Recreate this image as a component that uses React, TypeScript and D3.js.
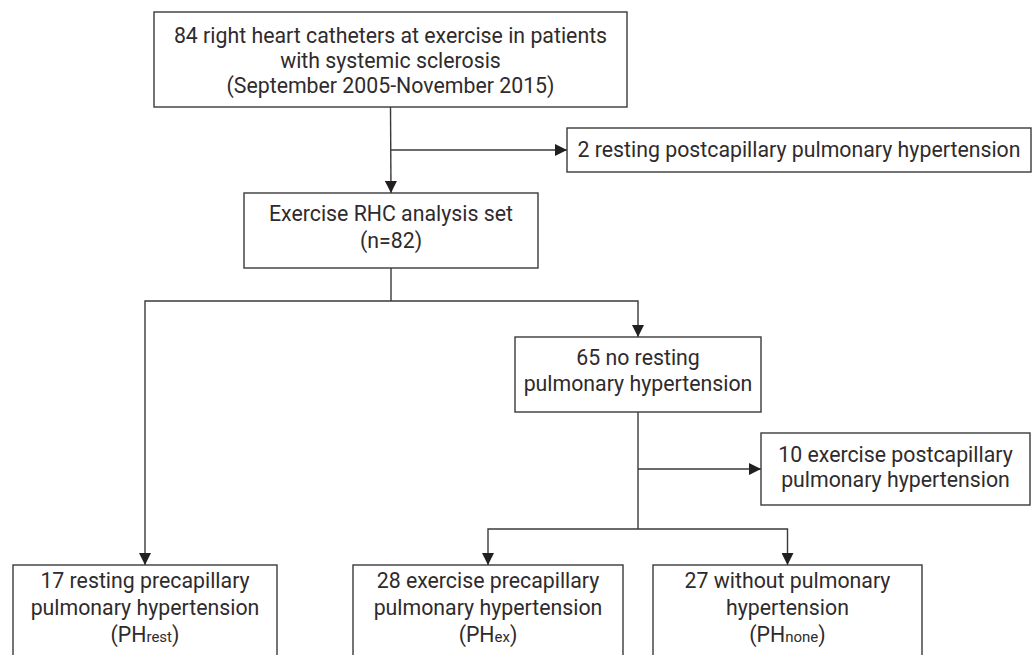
import * as d3 from "d3";
import { useEffect } from "react";

// box texts (main text lines, optional subscript on last line)
const startLines = [
  "84 right heart catheters at exercise in patients",
  "with systemic sclerosis",
  "(September 2005-November 2015)",
];
const excludedRestLines = ["2 resting postcapillary pulmonary hypertension"];
const analysisLines = ["Exercise RHC analysis set", "(n=82)"];
const noRestLines = ["65 no resting", "pulmonary hypertension"];
const excludedExLines = ["10 exercise postcapillary", "pulmonary hypertension"];
const phRestLines = ["17 resting precapillary", "pulmonary hypertension", "(PH|rest|)"];
const phExLines = ["28 exercise precapillary", "pulmonary hypertension", "(PH|ex|)"];
const phNoneLines = ["27 without pulmonary", "hypertension", "(PH|none|)"];

const W = 1036;
const H = 655;

type Box = { id: string; lines: string[]; x0: number; x1: number; y0: number; y1: number; first: number; lh: number };

const boxes: Box[] = [
  { id: "start", lines: startLines, x0: 154, x1: 627, y0: 12, y1: 107, first: 31, lh: 25 },
  { id: "exRest", lines: excludedRestLines, x0: 567, x1: 1031, y0: 128, y1: 172, first: 29, lh: 26 },
  { id: "analysis", lines: analysisLines, x0: 244, x1: 538, y0: 193, y1: 268, first: 28, lh: 27 },
  { id: "noRest", lines: noRestLines, x0: 515, x1: 761, y0: 337, y1: 412, first: 28, lh: 26 },
  { id: "exEx", lines: excludedExLines, x0: 761, x1: 1030, y0: 433, y1: 505, first: 29, lh: 25 },
  { id: "phRest", lines: phRestLines, x0: 13, x1: 277, y0: 565, y1: 680, first: 23, lh: 27 },
  { id: "phEx", lines: phExLines, x0: 353, x1: 623, y0: 565, y1: 680, first: 23, lh: 27 },
  { id: "phNone", lines: phNoneLines, x0: 653, x1: 922, y0: 565, y1: 680, first: 23, lh: 27 },
];

// junction heights of the connector branches
const branchY = { exclRest: 150, split: 301, exclEx: 469, splitEx: 529 };

const box = (id: string) => boxes.find((b) => b.id === id)!;
const cx = (b: Box) => (b.x0 + b.x1) / 2;

const stroke = "#3a3a3a";
const textColor = "#2f2b2c";
const font = "Roboto, 'Noto Sans', sans-serif";

const App = () => {
  useEffect(() => {
    document.body.style.margin = "0";
  }, []);

  const line = d3.line<[number, number]>().x((d) => d[0]).y((d) => d[1]);

  const s = box("start");
  const exR = box("exRest");
  const an = box("analysis");
  const nr = box("noRest");
  const exE = box("exEx");
  const pr = box("phRest");
  const pe = box("phEx");
  const pn = box("phNone");

  // connectors: [points, arrow?]
  const edges: [[number, number][], boolean][] = [
    [[[cx(s), s.y1], [cx(an), an.y0]], true],
    [[[cx(s), branchY.exclRest], [exR.x0, branchY.exclRest]], true],
    [[[cx(an), an.y1], [cx(an), branchY.split]], false],
    [[[cx(an), branchY.split], [cx(pr), branchY.split], [cx(pr), pr.y0]], true],
    [[[cx(an), branchY.split], [cx(nr), branchY.split], [cx(nr), nr.y0]], true],
    [[[cx(nr), nr.y1], [cx(nr), branchY.splitEx]], false],
    [[[cx(nr), branchY.exclEx], [exE.x0, branchY.exclEx]], true],
    [[[cx(nr), branchY.splitEx], [cx(pe), branchY.splitEx], [cx(pe), pe.y0]], true],
    [[[cx(nr), branchY.splitEx], [cx(pn), branchY.splitEx], [cx(pn), pn.y0]], true],
  ];

  const renderLine = (t: string) => {
    const parts = t.split("|");
    if (parts.length === 1) return t;
    return (
      <>
        {parts[0]}
        <tspan fontSize={15}>{parts[1]}</tspan>
        {parts[2]}
      </>
    );
  };

  return (
    <svg width={W} height={H} style={{ display: "block", background: "#fff" }}>
      <defs>
        <marker id="arr" viewBox="0 0 12 12" refX="12" refY="6" markerWidth="12" markerHeight="12" markerUnits="userSpaceOnUse" orient="auto">
          <path d="M0,0 L12,6 L0,12 Z" fill="#231f20" />
        </marker>
      </defs>
      {edges.map(([pts, arrow], i) => (
        <path
          key={i}
          d={line(pts) ?? ""}
          fill="none"
          stroke={stroke}
          strokeWidth={1.4}
          markerEnd={arrow ? "url(#arr)" : undefined}
        />
      ))}
      {boxes.map((b) => (
        <g key={b.id}>
          <rect x={b.x0} y={b.y0} width={b.x1 - b.x0} height={b.y1 - b.y0} fill="#fff" stroke={stroke} strokeWidth={1.4} />
          {b.lines.map((t, i) => (
            <text
              key={i}
              x={cx(b)}
              y={b.y0 + b.first + i * b.lh}
              textAnchor="middle"
              fontFamily={font}
              fontSize={21.3}
              fill={textColor}
            >
              {renderLine(t)}
            </text>
          ))}
        </g>
      ))}
    </svg>
  );
};

export default App;
